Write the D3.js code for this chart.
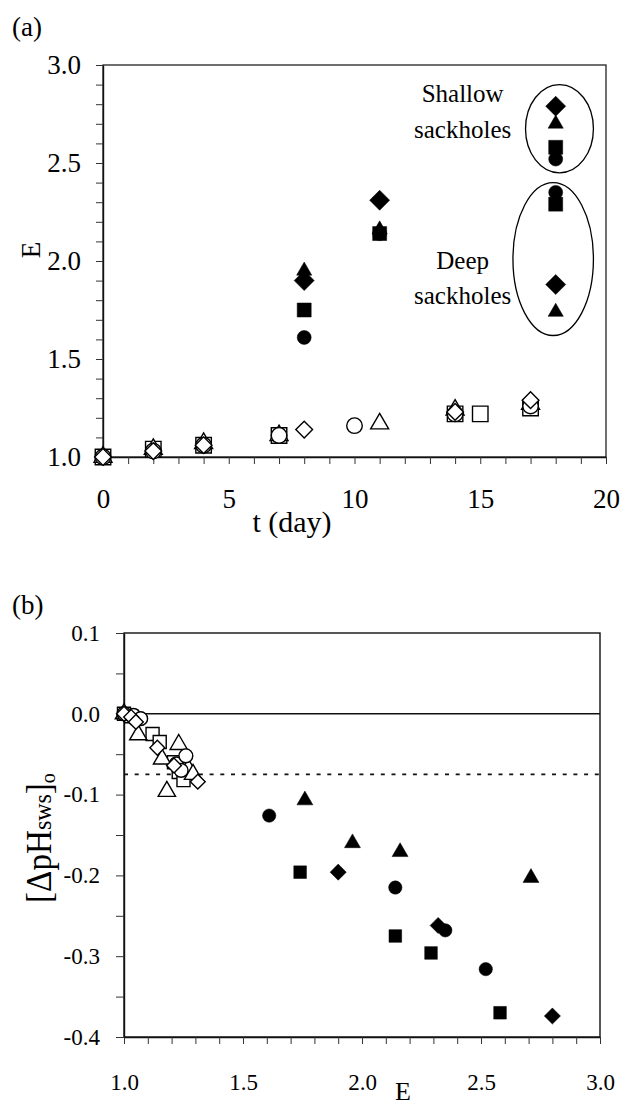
<!DOCTYPE html>
<html lang="en">
<head>
<meta charset="UTF-8" />
<title>Sackholes E and pH</title>
<style>
  html, body { margin: 0; padding: 0; background: #fff; }
  svg { display: block; }
  svg text { font-family: "Liberation Serif", "DejaVu Serif", serif; }
</style>
</head>
<body>
<script src="https://d3js.org/d3.v7.min.js"></script>
<script>
// panel (a): E against t (day), open = controls, filled = sackholes
const aOpenSquare   = [[0, 1.00], [2, 1.04], [4, 1.06], [7, 1.11], [14, 1.22], [15, 1.22], [17, 1.25]];
const aOpenTriangle = [[0, 1.00], [2, 1.04], [4, 1.07], [7, 1.11], [11, 1.17], [14, 1.24], [17, 1.27]];
const aOpenCircle   = [[0, 1.00], [2, 1.03], [4, 1.06], [7, 1.11], [10, 1.16], [14, 1.22], [17, 1.26]];
const aOpenDiamond  = [[0, 1.00], [2, 1.03], [4, 1.06], [8, 1.14], [14, 1.23], [17, 1.29]];
const aCircle   = [[8, 1.61], [11, 2.14], [18, 2.52], [18, 2.35]];
const aSquare   = [[8, 1.75], [11, 2.14], [18, 2.58], [18, 2.29]];
const aDiamond  = [[8, 1.90], [11, 2.31], [18, 2.79], [18, 1.88]];
const aTriangle = [[8, 1.95], [11, 2.16], [18, 2.70], [18, 1.74]];

// panel (b): [dpH]o against E
const bOpenSquare   = [[1.00, 0.000], [1.03, -0.003], [1.12, -0.025], [1.15, -0.035], [1.21, -0.060], [1.23, -0.072], [1.25, -0.082]];
const bOpenTriangle = [[1.00, 0.000], [1.06, -0.026], [1.16, -0.056], [1.18, -0.096], [1.23, -0.038], [1.27, -0.068], [1.29, -0.075]];
const bOpenCircle   = [[1.00, 0.000], [1.04, -0.002], [1.07, -0.006], [1.22, -0.062], [1.26, -0.052], [1.24, -0.070]];
const bOpenDiamond  = [[1.00, 0.000], [1.03, -0.004], [1.05, -0.010], [1.14, -0.042], [1.21, -0.064], [1.31, -0.084]];
const bCircle   = [[1.61, -0.126], [2.14, -0.215], [2.35, -0.268], [2.52, -0.316]];
const bSquare   = [[1.74, -0.196], [2.14, -0.275], [2.29, -0.296], [2.58, -0.370]];
const bDiamond  = [[1.90, -0.196], [2.32, -0.262], [2.80, -0.374]];
const bTriangle = [[1.76, -0.107], [1.96, -0.160], [2.16, -0.171], [2.71, -0.203]];
const bRefLines = [0, -0.075];

const W = 621, H = 1105;
const svg = d3.select("body").append("svg").attr("width", W).attr("height", H);

const sym = {
  square: d3.symbol().type(d3.symbolSquare),
  circle: d3.symbol().type(d3.symbolCircle),
  triangle: d3.symbol().type(d3.symbolTriangle),
  diamond: d3.symbol().type(d3.symbolSquare)
};

function drawPoints(g, data, x, y, shape, filled, size) {
  g.append("g").selectAll("path").data(data).join("path")
    .attr("d", sym[shape].size(size)())
    .attr("transform", d => `translate(${x(d[0])},${y(d[1])})` + (shape === "diamond" ? " rotate(45)" : ""))
    .attr("fill", filled ? "#000" : "#fff")
    .attr("stroke", "#000")
    .attr("stroke-width", filled ? 0.5 : 1.4);
}

function styleAxis(g, fs) {
  g.attr("font-family", null).attr("font-size", fs);
  g.select(".domain").attr("stroke", "#111").attr("stroke-width", 1.4);
  g.selectAll(".tick line").attr("stroke", "#333").attr("stroke-width", 1);
  g.selectAll(".tick text").attr("fill", "#000");
}

const fmt = d => (d < -1e-9 ? "-" : "") + Math.abs(d).toFixed(1);

// ---------- panel (a)
const xA = d3.scaleLinear().domain([0, 20]).range([103, 606]);
const yA = d3.scaleLinear().domain([1, 3]).range([457, 65]);
const gA = svg.append("g");

gA.append("rect")
  .attr("x", xA(0)).attr("y", yA(3))
  .attr("width", xA(20) - xA(0)).attr("height", yA(1) - yA(3))
  .attr("fill", "none").attr("stroke", "#222").attr("stroke-width", 1.3);

gA.append("g").attr("transform", `translate(0,${yA(1)})`)
  .call(d3.axisBottom(xA).tickValues(d3.range(0, 21)).tickSize(7).tickSizeOuter(0).tickPadding(25)
    .tickFormat(d => d % 5 === 0 ? d : ""))
  .call(g => styleAxis(g, 27));

gA.append("g").attr("transform", `translate(${xA(0)},0)`)
  .call(d3.axisLeft(yA).tickValues(d3.range(10, 31).map(v => v / 10)).tickSize(7).tickSizeOuter(0).tickPadding(15)
    .tickFormat(d => Math.round(d * 10) % 5 === 0 ? fmt(d) : ""))
  .call(g => styleAxis(g, 27));

drawPoints(gA, aOpenSquare, xA, yA, "square", false, 240);
drawPoints(gA, aOpenTriangle, xA, yA, "triangle", false, 140);
drawPoints(gA, aOpenCircle, xA, yA, "circle", false, 190);
drawPoints(gA, aOpenDiamond, xA, yA, "diamond", false, 140);
drawPoints(gA, aCircle, xA, yA, "circle", true, 154);
drawPoints(gA, aSquare, xA, yA, "square", true, 196);
drawPoints(gA, aDiamond, xA, yA, "diamond", true, 200);
drawPoints(gA, aTriangle, xA, yA, "triangle", true, 100);

// groups of sackholes
const ellipses = [
  { t0: 16.8, t1: 19.5, e0: 2.45, e1: 2.90 },
  { t0: 16.3, t1: 19.5, e0: 1.62, e1: 2.40 }
];
gA.append("g").selectAll("ellipse").data(ellipses).join("ellipse")
  .attr("cx", d => (xA(d.t0) + xA(d.t1)) / 2)
  .attr("cy", d => (yA(d.e0) + yA(d.e1)) / 2)
  .attr("rx", d => (xA(d.t1) - xA(d.t0)) / 2)
  .attr("ry", d => (yA(d.e0) - yA(d.e1)) / 2)
  .attr("fill", "none").attr("stroke", "#000").attr("stroke-width", 1.3);

const notes = [
  { t: 14.3, e: 2.81, s: "Shallow" }, { t: 14.3, e: 2.63, s: "sackholes" },
  { t: 14.3, e: 1.96, s: "Deep" }, { t: 14.3, e: 1.78, s: "sackholes" }
];
gA.append("g").selectAll("text").data(notes).join("text")
  .attr("x", d => xA(d.t)).attr("y", d => yA(d.e))
  .attr("text-anchor", "middle").attr("font-size", 25).text(d => d.s);

gA.append("text").attr("x", 12).attr("y", 36).attr("font-size", 27).text("(a)");
gA.append("text").attr("x", 292).attr("y", 532).attr("text-anchor", "middle").attr("font-size", 30).text("t (day)");
gA.append("text").attr("transform", "translate(40,250) rotate(-90)")
  .attr("text-anchor", "middle").attr("font-size", 27).text("E");

// ---------- panel (b)
const xB = d3.scaleLinear().domain([1, 3]).range([124, 600]);
const yB = d3.scaleLinear().domain([-0.4, 0.1]).range([1037, 633]);
const gB = svg.append("g");

gB.append("rect")
  .attr("x", xB(1)).attr("y", yB(0.1))
  .attr("width", xB(3) - xB(1)).attr("height", yB(-0.4) - yB(0.1))
  .attr("fill", "none").attr("stroke", "#111").attr("stroke-width", 1.4);

gB.append("g").selectAll("line").data(bRefLines).join("line")
  .attr("x1", xB(1)).attr("x2", xB(3))
  .attr("y1", d => yB(d)).attr("y2", d => yB(d))
  .attr("stroke", "#111").attr("stroke-width", (d, i) => i === 0 ? 1.4 : 1.6)
  .attr("stroke-dasharray", (d, i) => i === 0 ? null : "4,6.7");

gB.append("g").attr("transform", `translate(0,${yB(-0.4)})`)
  .call(d3.axisBottom(xB).tickValues(d3.range(10, 31).map(v => v / 10)).tickSize(7).tickSizeOuter(0).tickPadding(30)
    .tickFormat(d => Math.round(d * 10) % 5 === 0 ? fmt(d) : ""))
  .call(g => styleAxis(g, 23));

gB.append("g").attr("transform", `translate(${xB(1)},0)`)
  .call(d3.axisLeft(yB).tickValues(d3.range(-8, 3).map(v => v / 20)).tickSize(8).tickSizeOuter(0).tickPadding(16)
    .tickFormat(d => Math.round(d * 20) % 2 === 0 ? fmt(d) : ""))
  .call(g => styleAxis(g, 23));

drawPoints(gB, bOpenSquare, xB, yB, "square", false, 170);
drawPoints(gB, bOpenTriangle, xB, yB, "triangle", false, 130);
drawPoints(gB, bOpenCircle, xB, yB, "circle", false, 150);
drawPoints(gB, bOpenDiamond, xB, yB, "diamond", false, 110);
drawPoints(gB, bCircle, xB, yB, "circle", true, 140);
drawPoints(gB, bSquare, xB, yB, "square", true, 160);
drawPoints(gB, bDiamond, xB, yB, "diamond", true, 130);
drawPoints(gB, bTriangle, xB, yB, "triangle", true, 110);

gB.append("text").attr("x", 12).attr("y", 614).attr("font-size", 27).text("(b)");
gB.append("text").attr("x", 403).attr("y", 1100).attr("text-anchor", "middle").attr("font-size", 26).text("E");

const yl = gB.append("text").attr("transform", "translate(51,838) rotate(-90) scale(0.92,1)")
  .attr("text-anchor", "middle").attr("font-size", 36);
yl.append("tspan").text("[ΔpH");
yl.append("tspan").attr("font-size", 26).text("sws");
yl.append("tspan").text("]");
yl.append("tspan").attr("font-size", 22).attr("dy", 4).text("o");
</script>
</body>
</html>
